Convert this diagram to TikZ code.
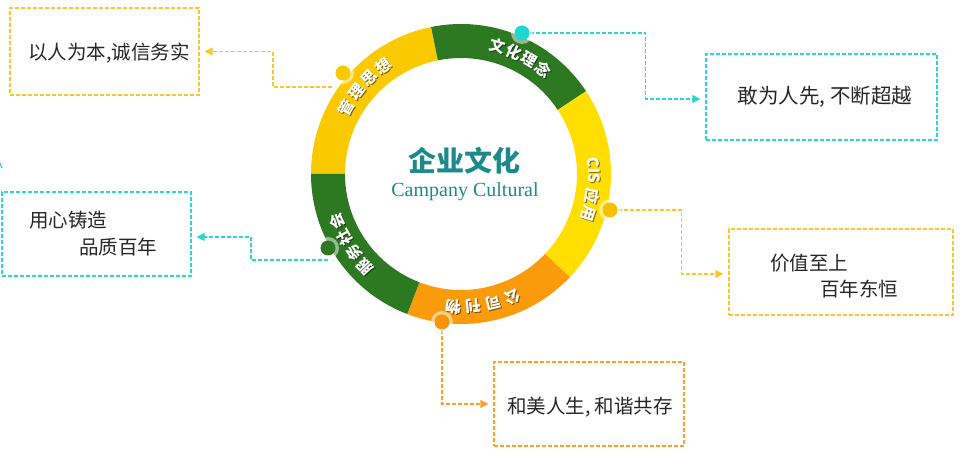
\documentclass[tikz,border=0pt]{standalone}
\usepackage{fontspec}
\setmainfont{Liberation Serif}
\newfontfamily\cjk{Noto Sans CJK SC}
\usetikzlibrary{arrows.meta}
\definecolor{rgreen}{RGB}{44,121,34}
\definecolor{ryellowA}{RGB}{251,201,0}
\definecolor{ryellowB}{RGB}{255,222,0}
\definecolor{rorange}{RGB}{250,155,12}
\definecolor{lcyan}{RGB}{40,214,214}
\definecolor{lyellow}{RGB}{249,200,40}
\definecolor{lorange}{RGB}{250,160,40}
\definecolor{tealt}{RGB}{28,138,140}
\definecolor{dcyan}{RGB}{30,216,208}
\definecolor{dyellow}{RGB}{246,192,0}
\definecolor{dorange}{RGB}{247,148,12}
\newcommand\ringseg[3]{\fill[#3] (#1:150pt) arc[start angle=#1, end angle=#2, radius=150pt] -- (#2:116pt) arc[start angle=#2, end angle=#1, radius=116pt] -- cycle;}
\newcommand\ringlabel[4]{%
  \foreach \c [count=\i from 0] in {#4} {
    \pgfmathsetmacro\a{#1-\i*#2}
    \path (\a:133pt) ++(1pt,-1pt) node[ringsh, rotate=\a-90] {\c};
    \node[ringtxt, rotate=\a-90] (#3-\i) at (\a:133pt) {\c};
  }}
\tikzset{
  conn/.style={dash pattern=on 4pt off 2pt, line width=1.1pt, -{Triangle[length=8pt,width=8pt]}, shorten >=5pt},
  boxnode/.style={draw, dash pattern=on 4pt off 2pt, line width=1.1pt, inner sep=0pt},
  boxtxt/.style={font=\cjk\fontsize{19.5}{24}\selectfont, text=black!85, inner sep=0pt},
  ringtxt/.style={font=\cjk\bfseries\fontsize{15.5}{15.5}\selectfont, text=white, inner sep=0pt},
  ringsh/.style={font=\cjk\bfseries\fontsize{15.5}{15.5}\selectfont, text=black, opacity=.5, inner sep=0pt},
  dotnode/.style={circle, inner sep=0pt, minimum size=15pt},
  halo/.style={fill=white, opacity=.5},
}
\begin{document}
\begin{tikzpicture}[x=1pt,y=1pt]
\useasboundingbox (-461,-291) rectangle (508,174);
% ring
\ringseg{101.5}{180}{ryellowA}
\ringseg{33.5}{101.5}{rgreen}
\ringseg{-43.5}{33.5}{ryellowB}
\ringseg{-111}{-43.5}{rorange}
\ringseg{180}{249}{rgreen}
% boxes
\node[boxnode, draw=lyellow, minimum width=189pt, minimum height=87pt] (box1) at (-356.5,122.5) {};
\node[boxnode, draw=lcyan, minimum width=189pt, minimum height=84pt] (box2) at (-364.5,-60) {};
\node[boxnode, draw=lcyan, minimum width=231pt, minimum height=86pt] (box3) at (360.5,77) {};
\node[boxnode, draw=lyellow, minimum width=224pt, minimum height=86pt] (box4) at (380,-98) {};
\node[boxnode, draw=lorange, minimum width=190pt, minimum height=84pt] (box5) at (128,-230) {};
% box texts
\node[boxtxt] (t1) at (-352,121) {以人为本,诚信务实};
\node[boxtxt, anchor=west] (t2a) at (-432,-46) {用心铸造};
\node[boxtxt, anchor=west] (t2b) at (-382,-73) {品质百年};
\node[boxtxt, font=\cjk\fontsize{20.5}{24}\selectfont] (t3) at (364,77) {敢为人先, 不断超越};
\node[boxtxt, anchor=west] (t4a) at (309,-89) {价值至上};
\node[boxtxt, anchor=west] (t4b) at (359,-115) {百年东恒};
\node[boxtxt] (t5) at (129,-233) {和美人生, 和谐共存};
% centre
\node[font=\cjk\bfseries\fontsize{28}{28}\selectfont, text=tealt, inner sep=0pt] (title) at (4,13) {企业文化};
\node[font=\fontsize{20}{20}\selectfont, text=tealt, anchor=base, inner sep=0pt] (sub) at (4,-23) {Campany Cultural};
% connectors
\coordinate (c1) at (-129,87);
\coordinate (c2) at (-133,-86);
\coordinate (m1) at (-461,11);
\coordinate (m2) at (-459,6);
\draw[lcyan, line width=1.1pt] (m1) -- (m2);
\node[dotnode] (d3) at (61,141) {};
\node[dotnode] (d4) at (149,-36) {};
\node[dotnode] (d5) at (-19,-148) {};
\draw[conn, lyellow] (c1) -- +(-59,0) |- (box1.east);
\draw[conn, lcyan] (c2) -- +(-77,0) |- ([yshift=-3pt]box2.east);
\draw[conn, lcyan] (d3.east) -- +(116,0) |- ([yshift=-2pt]box3.west);
\draw[conn, lyellow] (d4.east) -- +(63.5,0) |- ([yshift=-2pt]box4.west);
\draw[conn, lorange] (d5.south) |- (box5.west);
% dots
\fill[halo] (61,141) circle (11pt);
\fill[halo] (-118,101) circle (11pt);
\fill[halo] (149,-36) circle (11pt);
\fill[halo] (-133,-74) circle (11pt);
\fill[halo] (-19,-148) circle (11pt);
\node[dotnode, fill=dcyan] at (d3) {};
\node[dotnode, fill=ryellowA] (d1) at (-118,101) {};
\node[dotnode, fill=dyellow] at (d4) {};
\node[dotnode, fill=rgreen] (d2) at (-133,-74) {};
\node[dotnode, fill=dorange] at (d5) {};
% ring labels
\ringlabel{74}{7.5}{la}{文,化,理,念}
\ringlabel{150}{8}{lb}{管,理,思,想}
\ringlabel{-67}{8.8}{lc}{公,司,刊,物}
\ringlabel{224}{7.7}{ld}{服,务,社,会}
\foreach \c/\a [count=\i] in {CIS/1.5,应/-9.5,用/-17.5} {
  \path (\a:133pt) ++(1pt,-1pt) node[ringsh, rotate=\a-90] {\c};
  \node[ringtxt, rotate=\a-90] (le-\i) at (\a:133pt) {\c};
}
\end{tikzpicture}
\end{document}
